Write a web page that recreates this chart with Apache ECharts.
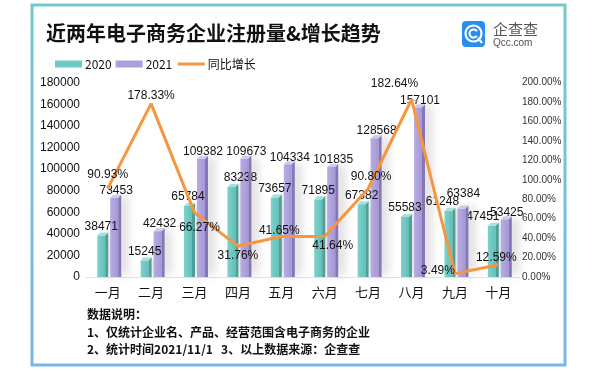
<!DOCTYPE html>
<html><head><meta charset="utf-8">
<script src="https://cdn.jsdelivr.net/npm/echarts@6/dist/echarts.min.js"></script>
<style>html,body{margin:0;padding:0;background:#fff}#c{width:592px;height:371px}</style>
</head><body><div id="c"></div>
<script>
const categories = ['一月','二月','三月','四月','五月','六月','七月','八月','九月','十月'];
const reg2020 = [38471,15245,65784,83238,73657,71895,67382,55583,61248,47451];
const reg2021 = [73453,42432,109382,109673,104334,101835,128568,157101,63384,53425];
const yoyGrowth = [90.93,178.33,66.27,31.76,41.65,41.64,90.80,182.64,3.49,12.59];
const legendNames = ['2020','2021','同比增长'];
const titleText = '近两年电子商务企业注册量&增长趋势';
const notes = ['数据说明：','1、仅统计企业名、产品、经营范围含电子商务的企业','2、统计时间2021/11/1   3、以上数据来源：企查查'];

const FONT = '"Microsoft YaHei","Noto Sans CJK SC","Noto Sans",sans-serif';
const NUMFONT = 'Arial,"Liberation Sans",sans-serif';
const chart = echarts.init(document.getElementById('c'), null, {renderer:'canvas'});

// per-point label placement (style only)
const pctPlace = [
  {position:'top', distance:8},
  {position:'top', distance:2},
  {position:'bottom', distance:9, offset:[5,0]},
  {position:'bottom', distance:4},
  {position:'top', distance:0, offset:[-2,0]},
  {position:'bottom', distance:3, offset:[8,0]},
  {position:'top', distance:6, offset:[3,0]},
  {position:'top', distance:2, offset:[-17,-8]},
  {position:'left', distance:0, offset:[0,-3]},
  {position:'top', distance:1, offset:[-2,0]}
];
const barLabelOffset2020 = {3:[9,0], 8:[-6,0], 9:[-9,0]};
const barLabelOffset2021 = {8:[2,-8]};

const sideColors = [
  {front:new echarts.graphic.LinearGradient(0,0,1,0,[{offset:0,color:'#7fd2cb'},{offset:1,color:'#62c0b9'}]), side:'#4d9f99', top:'#a6e0db'},
  {front:new echarts.graphic.LinearGradient(0,0,1,0,[{offset:0,color:'#b9ade3'},{offset:1,color:'#a597d6'}]), side:'#8576b8', top:'#d2c9ef'}
];

function makeFaces(seriesIdx){
  return function(params, api){
    const idx = api.value(0), val = api.value(1);
    const top = api.coord([idx, val]);
    const bot = api.coord([idx, 0]);
    const c = top[0];
    const xr = seriesIdx === 0 ? c - 2.5 : c + 10.5;
    const w = 8, d = 3;
    const yT = top[1], yB = bot[1];
    const col = sideColors[seriesIdx];
    return {
      type:'group',
      children:[
        {type:'polygon', shape:{points:[[xr,yT],[xr+d,yT-d],[xr+d,yB],[xr,yB]]}, style:{fill:col.side}},
        {type:'polygon', shape:{points:[[xr-w,yT],[xr-w+d,yT-d],[xr+d,yT-d],[xr,yT]]}, style:{fill:col.top}}
      ]
    };
  };
}

const lblStyle = {color:'#111', fontSize:12, fontFamily:NUMFONT};
const withOffsets = (arr, map) => arr.map((v,i)=>map[i]?{value:v,label:{offset:map[i]}}:v);

const option = {
  backgroundColor:'#fff',
  animation:false,
  title:{text:titleText, left:41, top:18, textStyle:{fontSize:20, fontWeight:'bold', color:'#111', fontFamily:FONT}},
  legend:{
    data:[
      {name:legendNames[0], icon:'rect', itemStyle:{color:'#6ecac3'}},
      {name:legendNames[1], icon:'rect', itemStyle:{color:'#ae9fdc'}},
      {name:legendNames[2], itemStyle:{opacity:0}, lineStyle:{width:3, color:'#f7963e'}}
    ],
    left:50, top:53, itemWidth:27, itemHeight:7, itemGap:4,
    textStyle:{fontSize:12, color:'#111', fontFamily:FONT, padding:[0,0,0,-2]}
  },
  grid:{left:86, right:72, top:82.6, bottom:94},
  xAxis:{
    type:'category', data:categories,
    axisLine:{show:true, lineStyle:{color:'#e3e3e3', width:1}},
    axisTick:{show:false},
    axisLabel:{fontSize:13, color:'#111', margin:9, fontFamily:FONT}
  },
  yAxis:[
    {type:'value', min:0, max:180000, interval:20000,
     axisLine:{show:false}, axisTick:{show:false}, splitLine:{show:false},
     axisLabel:{fontSize:12, color:'#111', margin:6, fontFamily:NUMFONT, formatter:v=>String(v)}},
    {type:'value', min:0, max:200, interval:20,
     axisLine:{show:false}, axisTick:{show:false}, splitLine:{show:false},
     axisLabel:{fontSize:10, color:'#333', margin:2, fontFamily:NUMFONT,
       formatter:v=>v.toFixed(2)+'%'}}
  ],
  series:[
    {name:legendNames[0], type:'bar', data:withOffsets(reg2020, barLabelOffset2020), barWidth:8, barGap:'62%', z:2,
     itemStyle:{color:sideColors[0].front, shadowColor:'rgba(0,0,0,0.16)', shadowBlur:10, shadowOffsetX:9, shadowOffsetY:-2},
     label:{show:true, position:'top', distance:3, ...lblStyle}},
    {name:legendNames[1], type:'bar', data:withOffsets(reg2021, barLabelOffset2021), barWidth:8, z:2,
     itemStyle:{color:sideColors[1].front, shadowColor:'rgba(0,0,0,0.16)', shadowBlur:10, shadowOffsetX:9, shadowOffsetY:-2},
     label:{show:true, position:'top', distance:1, offset:[2,0], ...lblStyle}},
    {type:'custom', silent:true, z:3, renderItem:makeFaces(0), data:reg2020.map((v,i)=>[i,v])},
    {type:'custom', silent:true, z:3, renderItem:makeFaces(1), data:reg2021.map((v,i)=>[i,v])},
    {name:legendNames[2], type:'line', yAxisIndex:1, z:5, symbol:'circle', symbolSize:0.01, showSymbol:true, smooth:false,
     lineStyle:{color:'#f7963e', width:3}, itemStyle:{color:'#f7963e'},
     data:yoyGrowth.map((v,i)=>({value:v, label:pctPlace[i], labelLine: i===7?{show:true, lineStyle:{color:'#aaa', width:1}}:undefined})),
     label:{show:true, formatter:p=>p.value.toFixed(2)+'%', ...lblStyle}}
  ],
  graphic:[
    {type:'rect', z:-1, shape:{x:32, y:5, width:533, height:360},
     style:{fill:'#fff', lineWidth:3, stroke:new echarts.graphic.LinearGradient(0,0,0,1,[{offset:0,color:'#72caca'},{offset:1,color:'#7ab6ee'}])}},
    {type:'rect', shape:{x:462, y:21, width:23, height:26, r:4}, style:{fill:'#2a8ef0'}},
    {type:'circle', shape:{cx:473.5, cy:33.5, r:8}, style:{fill:'none', stroke:'#fff', lineWidth:2.2}},
    {type:'arc', shape:{cx:473.5, cy:33.5, r:4, startAngle:0.6, endAngle:5.7}, style:{fill:'none', stroke:'#fff', lineWidth:2}},
    {type:'line', shape:{x1:478, y1:38, x2:482, y2:43}, style:{stroke:'#fff', lineWidth:2.2}},
    {type:'text', style:{x:493, y:29, text:'企查查', fontSize:15, fill:'#555', fontFamily:FONT, verticalAlign:'middle'}},
    {type:'text', style:{x:493, y:43, text:'Qcc.com', fontSize:10, fill:'#555', fontFamily:NUMFONT, verticalAlign:'middle'}},
    {type:'text', style:{x:87, y:314, text:notes[0], fontSize:12, fontWeight:'bold', fill:'#111', fontFamily:FONT, verticalAlign:'middle'}},
    {type:'text', style:{x:87, y:332, text:notes[1], fontSize:12, fontWeight:'bold', fill:'#111', fontFamily:FONT, verticalAlign:'middle'}},
    {type:'text', style:{x:87, y:349, text:notes[2], fontSize:12, fontWeight:'bold', fill:'#111', fontFamily:FONT, verticalAlign:'middle'}}
  ]
};
chart.setOption(option);
</script></body></html>
